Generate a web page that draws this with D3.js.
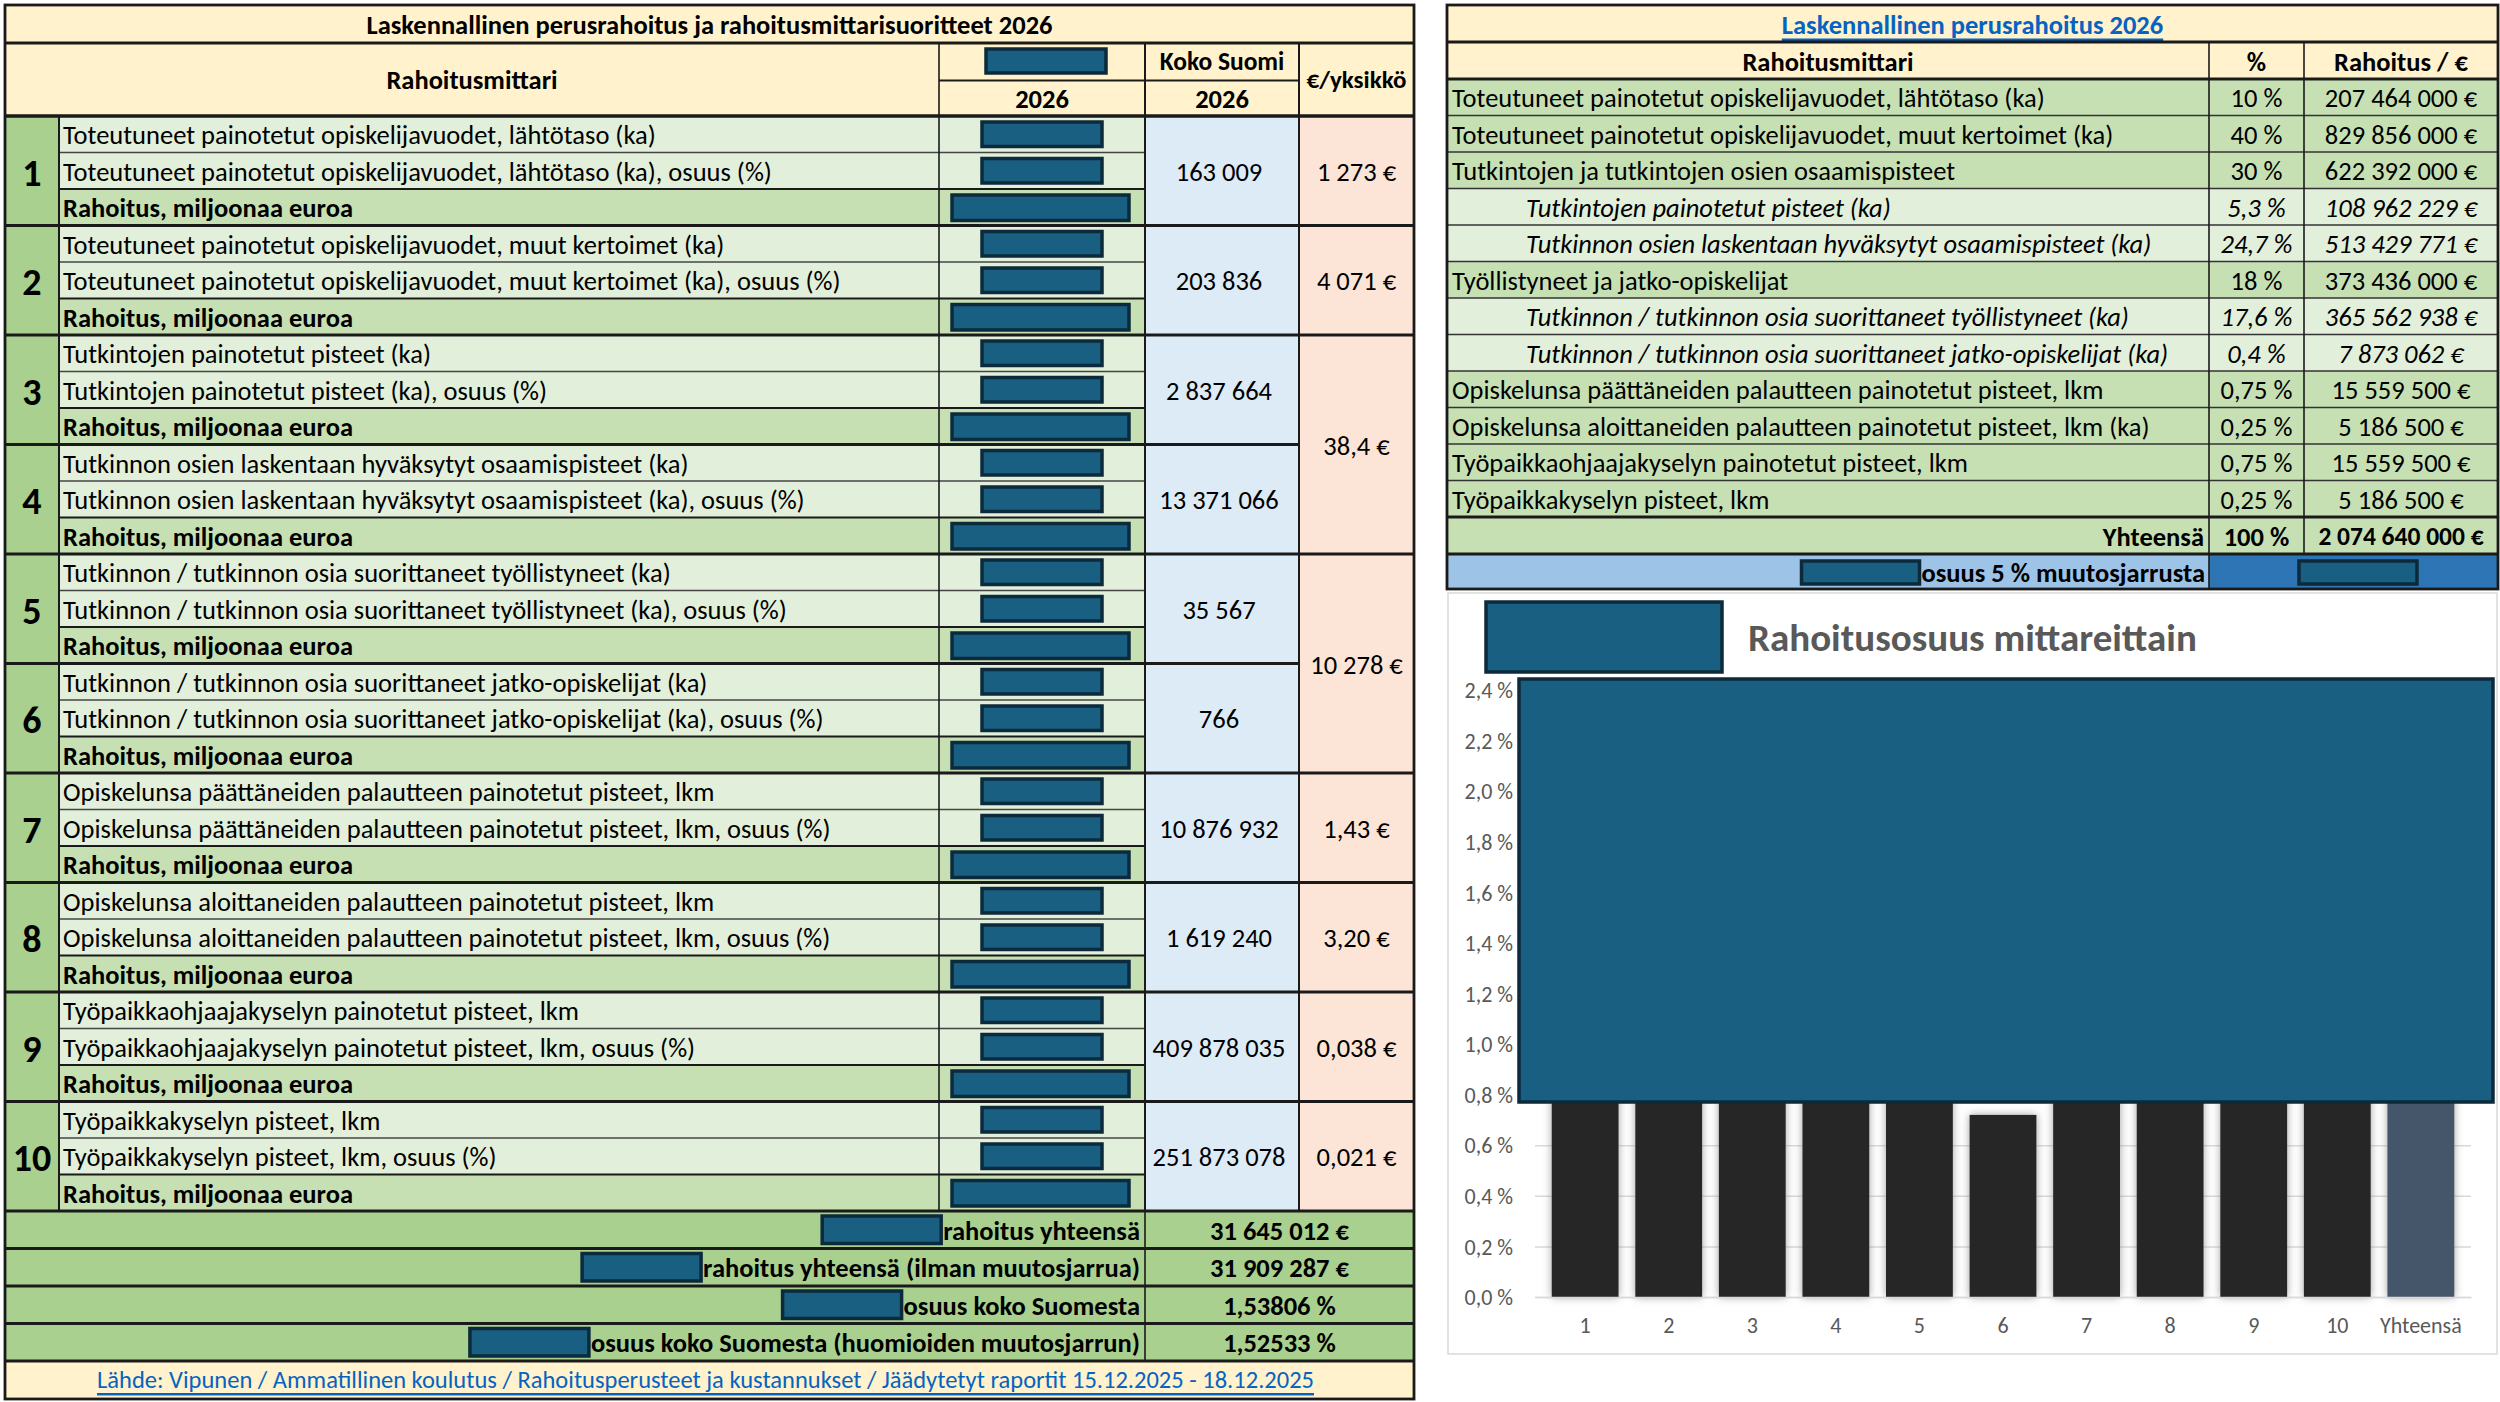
<!DOCTYPE html>
<html>
<head>
<meta charset="utf-8">
<script src="https://cdn.jsdelivr.net/npm/d3@7"></script>
<style>
  body { margin: 0; background: #ffffff; }
  svg { display: block; }
  text { font-family: Carlito, Lato, "Open Sans", sans-serif; fill: #000; }
</style>
</head>
<body>
<div id="sheet"></div>
<script>
// ---- data ----
var groupNumbers = [1, 2, 3, 4, 5, 6, 7, 8, 9, 10];

var mittariLabels = [
    ["Toteutuneet painotetut opiskelijavuodet, lähtötaso (ka)", "Toteutuneet painotetut opiskelijavuodet, lähtötaso (ka), osuus (%)"],
    ["Toteutuneet painotetut opiskelijavuodet, muut kertoimet (ka)", "Toteutuneet painotetut opiskelijavuodet, muut kertoimet (ka), osuus (%)"],
    ["Tutkintojen painotetut pisteet (ka)", "Tutkintojen painotetut pisteet (ka), osuus (%)"],
    ["Tutkinnon osien laskentaan hyväksytyt osaamispisteet (ka)", "Tutkinnon osien laskentaan hyväksytyt osaamispisteet (ka), osuus (%)"],
    ["Tutkinnon / tutkinnon osia suorittaneet työllistyneet (ka)", "Tutkinnon / tutkinnon osia suorittaneet työllistyneet (ka), osuus (%)"],
    ["Tutkinnon / tutkinnon osia suorittaneet jatko-opiskelijat (ka)", "Tutkinnon / tutkinnon osia suorittaneet jatko-opiskelijat (ka), osuus (%)"],
    ["Opiskelunsa päättäneiden palautteen painotetut pisteet, lkm", "Opiskelunsa päättäneiden palautteen painotetut pisteet, lkm, osuus (%)"],
    ["Opiskelunsa aloittaneiden palautteen painotetut pisteet, lkm", "Opiskelunsa aloittaneiden palautteen painotetut pisteet, lkm, osuus (%)"],
    ["Työpaikkaohjaajakyselyn painotetut pisteet, lkm", "Työpaikkaohjaajakyselyn painotetut pisteet, lkm, osuus (%)"],
    ["Työpaikkakyselyn pisteet, lkm", "Työpaikkakyselyn pisteet, lkm, osuus (%)"]
];
var rahoitusLabel = "Rahoitus, miljoonaa euroa";

var kokoSuomi = ["163 009", "203 836", "2 837 664", "13 371 066", "35 567", "766",
                 "10 876 932", "1 619 240", "409 878 035", "251 873 078"];

// €/yksikkö cells, some merged over two groups
var euroFrom = [0, 1, 2, 4, 6, 7, 8, 9];
var euroTo   = [0, 1, 3, 5, 6, 7, 8, 9];
var euroText = ["1 273 €", "4 071 €", "38,4 €", "10 278 €", "1,43 €", "3,20 €", "0,038 €", "0,021 €"];

var summaryLabels = ["rahoitus yhteensä", "rahoitus yhteensä (ilman muutosjarrua)",
                     "osuus koko Suomesta", "osuus koko Suomesta (huomioiden muutosjarrun)"];
var summaryValues = ["31 645 012 €", "31 909 287 €", "1,53806 %", "1,52533 %"];

var sourceText = "Lähde: Vipunen / Ammatillinen koulutus / Rahoitusperusteet ja kustannukset / Jäädytetyt raportit 15.12.2025 - 18.12.2025";

var rightLabels = [
    "Toteutuneet painotetut opiskelijavuodet, lähtötaso (ka)",
    "Toteutuneet painotetut opiskelijavuodet, muut kertoimet (ka)",
    "Tutkintojen ja tutkintojen osien osaamispisteet",
    "Tutkintojen painotetut pisteet (ka)",
    "Tutkinnon osien laskentaan hyväksytyt osaamispisteet (ka)",
    "Työllistyneet ja jatko-opiskelijat",
    "Tutkinnon / tutkinnon osia suorittaneet työllistyneet (ka)",
    "Tutkinnon / tutkinnon osia suorittaneet jatko-opiskelijat (ka)",
    "Opiskelunsa päättäneiden palautteen painotetut pisteet, lkm",
    "Opiskelunsa aloittaneiden palautteen painotetut pisteet, lkm (ka)",
    "Työpaikkaohjaajakyselyn painotetut pisteet, lkm",
    "Työpaikkakyselyn pisteet, lkm"
];
var rightPct = ["10 %", "40 %", "30 %", "5,3 %", "24,7 %", "18 %", "17,6 %", "0,4 %",
                "0,75 %", "0,25 %", "0,75 %", "0,25 %"];
var rightEur = ["207 464 000 €", "829 856 000 €", "622 392 000 €", "108 962 229 €", "513 429 771 €",
                "373 436 000 €", "365 562 938 €", "7 873 062 €", "15 559 500 €", "5 186 500 €",
                "15 559 500 €", "5 186 500 €"];
var rightSub = [false, false, false, true, true, false, true, true, false, false, false, false];
var rightTotal = ["Yhteensä", "100 %", "2 074 640 000 €"];
var brakeLabel = "osuus 5 % muutosjarrusta";

var barCategories = ["1", "2", "3", "4", "5", "6", "7", "8", "9", "10", "Yhteensä"];
// tops above 0,8 % are hidden behind the cover box in the source
var barValues = [1.55, 1.52, 1.50, 1.54, 1.58, 0.72, 1.47, 1.44, 1.57, 1.51, 1.53];
var yTickValues = [0, 0.2, 0.4, 0.6, 0.8, 1.0, 1.2, 1.4, 1.6, 1.8, 2.0, 2.2, 2.4];
var chartTitle = "Rahoitusosuus mittareittain";

// ---- setup ----
var W = 2500, H = 1402;
var svg = d3.select("#sheet").append("svg")
    .attr("width", W).attr("height", H)
    .style("background-color", "#ffffff");

var defs = svg.append("defs");
var sh = defs.append("filter").attr("id", "barShadow")
    .attr("x", "-30%").attr("y", "-10%").attr("width", "160%").attr("height", "120%");
sh.append("feDropShadow").attr("dx", 0).attr("dy", 0).attr("stdDeviation", 4)
    .attr("flood-color", "#7f7f7f").attr("flood-opacity", 0.75);

var FS = 26.5;   // body font size

function cell(g, x, y, w, h, fill) {
    g.append("rect").attr("x", x).attr("y", y).attr("width", w).attr("height", h)
        .style("fill", fill);
}
function line(g, x1, y1, x2, y2, sw, col) {
    g.append("line").attr("x1", x1).attr("y1", y1).attr("x2", x2).attr("y2", y2)
        .style("stroke", col || "#1a1a1a").style("stroke-width", sw);
}
function label(g, x, y, str, anchor, opts) {
    opts = opts || {};
    return g.append("text").attr("x", x).attr("y", y)
        .attr("text-anchor", anchor || "start")
        .attr("dominant-baseline", "central")
        .style("font-size", (opts.size || FS) + "px")
        .style("font-weight", opts.bold ? "bold" : "normal")
        .style("font-style", opts.italic ? "italic" : "normal")
        .style("fill", opts.fill || "#000")
        .style("text-decoration", opts.underline ? "underline" : "none")
        .text(str);
}
function coverBox(g, x, y, w, h) {
    g.append("rect").attr("x", x).attr("y", y).attr("width", w).attr("height", h)
        .style("fill", "#185f81").style("stroke", "#0c2a3b").style("stroke-width", 3.5);
}

// ---- left table ----
var L = svg.append("g");
var colX = [5, 59, 939, 1145, 1299, 1414];
var topY = 5, headY = 43, bodyY = 116, bodyEnd = 1211;
var rowY = d3.scaleLinear().domain([0, groupNumbers.length * 3]).range([bodyY, bodyEnd]);
var rowH = rowY(1) - rowY(0);

cell(L, colX[0], topY, colX[5] - colX[0], bodyY - topY, "#FFF2CC");
label(L, (colX[0] + colX[5]) / 2, (topY + headY) / 2 + 1, "Laskennallinen perusrahoitus ja rahoitusmittarisuoritteet 2026", "middle", {bold: true});
label(L, (colX[0] + colX[2]) / 2, (headY + bodyY) / 2, "Rahoitusmittari", "middle", {bold: true});
coverBox(L, 986, 49, 120, 24);
label(L, (colX[2] + colX[3]) / 2, (headY + bodyY) / 2 + 19, "2026", "middle", {bold: true});
label(L, (colX[3] + colX[4]) / 2, (headY + bodyY) / 2 - 18, "Koko Suomi", "middle", {bold: true, size: 25.5});
label(L, (colX[3] + colX[4]) / 2, (headY + bodyY) / 2 + 19, "2026", "middle", {bold: true});
label(L, (colX[4] + colX[5]) / 2, (headY + bodyY) / 2, "€/yksikkö", "middle", {bold: true, size: 25});

var groups = L.selectAll("g.grp").data(groupNumbers).join("g").attr("class", "grp");
groups.each(function(n, i) {
    var g = d3.select(this);
    var y0 = rowY(i * 3);
    cell(g, colX[0], y0, colX[1] - colX[0], rowH * 3, "#A9D08E");
    for (var r = 0; r < 3; r++) {
        var yr = rowY(i * 3 + r);
        var fill = r < 2 ? "#E2EFDA" : "#C6E0B4";
        cell(g, colX[1], yr, colX[3] - colX[1], rowH, fill);
        if (r < 2) {
            label(g, colX[1] + 4, yr + rowH / 2 + 1, mittariLabels[i][r], "start");
            coverBox(g, 982, yr + 6, 120, rowH - 12);
        } else {
            label(g, colX[1] + 4, yr + rowH / 2 + 1, rahoitusLabel, "start", {bold: true});
            coverBox(g, 952, yr + 6, 177, rowH - 11);
        }
    }
    cell(g, colX[3], y0, colX[4] - colX[3], rowH * 3, "#DDEBF7");
    label(g, (colX[3] + colX[4]) / 2 - 3, y0 + rowH * 1.5 + 1, kokoSuomi[i], "middle");
    label(g, (colX[0] + colX[1]) / 2, y0 + rowH * 1.5 + 2, String(n), "middle", {bold: true, size: 38});
    // lines inside group
    line(g, colX[1], rowY(i * 3 + 1), colX[3], rowY(i * 3 + 1), 1.3, "#444");
    line(g, colX[1], rowY(i * 3 + 2), colX[3], rowY(i * 3 + 2), 2.2, "#1a1a1a");
});

euroText.forEach(function(t, k) {
    var y0 = rowY(euroFrom[k] * 3), y1 = rowY((euroTo[k] + 1) * 3);
    cell(L, colX[4], y0, colX[5] - colX[4], y1 - y0, "#FCE4D6");
    label(L, (colX[4] + colX[5]) / 2, (y0 + y1) / 2 + 1, t, "middle");
});
// group separators
groupNumbers.forEach(function(n, i) {
    line(L, colX[0], rowY(i * 3), colX[4], rowY(i * 3), 2.8);
});
euroFrom.forEach(function(f) {
    line(L, colX[4], rowY(f * 3), colX[5], rowY(f * 3), 2.8);
});

// summary rows
var sumY = d3.scaleLinear().domain([0, summaryLabels.length]).range([bodyEnd, 1361]);
var sumH = sumY(1) - sumY(0);
summaryLabels.forEach(function(t, k) {
    var y = sumY(k);
    cell(L, colX[0], y, colX[5] - colX[0], sumH, "#A9D08E");
    var tx = label(L, colX[3] - 5, y + sumH / 2 + 1, t, "end", {bold: true});
    var bb = tx.node().getBBox();
    coverBox(L, bb.x - 121, y + 5, 119, sumH - 10);
    label(L, (colX[3] + colX[5]) / 2, y + sumH / 2 + 1, summaryValues[k], "middle", {bold: true});
    line(L, colX[0], y, colX[5], y, 2.8);
});
line(L, colX[3], bodyEnd, colX[3], 1361, 1.6);

// footer
cell(L, colX[0], 1361, colX[5] - colX[0], 1399 - 1361, "#FFF2CC");
label(L, (colX[0] + colX[5]) / 2 - 4, 1380, sourceText, "middle", {fill: "#0563C1", underline: true, size: 24.5});
line(L, colX[0], 1361, colX[5], 1361, 2.8);

// vertical lines & outer frame
line(L, colX[1], bodyY, colX[1], bodyEnd, 2);
line(L, colX[2], headY, colX[2], bodyEnd, 1.6);
line(L, colX[3], headY, colX[3], bodyEnd, 2);
line(L, colX[4], headY, colX[4], bodyEnd, 2);
line(L, colX[2], (headY + bodyY) / 2 + 1, colX[4], (headY + bodyY) / 2 + 1, 2);
line(L, colX[0], headY, colX[5], headY, 2.8);
line(L, colX[0], bodyY, colX[5], bodyY, 2.8);
L.append("rect").attr("x", colX[0]).attr("y", topY).attr("width", colX[5] - colX[0])
    .attr("height", 1399 - topY).style("fill", "none").style("stroke", "#1a1a1a").style("stroke-width", 2.8);

// ---- right table ----
var R = svg.append("g");
var rx = [1447, 2209, 2304, 2498];
var rTop = 5, rHead = 42, rBody = 79;
var rRow = d3.scaleLinear().domain([0, rightLabels.length]).range([rBody, 517]);
var rh = rRow(1) - rRow(0);

cell(R, rx[0], rTop, rx[3] - rx[0], rBody - rTop, "#FFF2CC");
label(R, (rx[0] + rx[3]) / 2, (rTop + rHead) / 2 + 1, "Laskennallinen perusrahoitus 2026", "middle", {fill: "#0563C1", underline: true, bold: true});
label(R, (rx[0] + rx[1]) / 2, (rHead + rBody) / 2 + 1, "Rahoitusmittari", "middle", {bold: true});
label(R, (rx[1] + rx[2]) / 2, (rHead + rBody) / 2 + 1, "%", "middle", {bold: true});
label(R, (rx[2] + rx[3]) / 2, (rHead + rBody) / 2 + 1, "Rahoitus / €", "middle", {bold: true});

var rrows = R.selectAll("g.rrow").data(rightLabels).join("g").attr("class", "rrow");
rrows.each(function(t, i) {
    var g = d3.select(this);
    var y = rRow(i);
    cell(g, rx[0], y, rx[3] - rx[0], rh, rightSub[i] ? "#E2EFDA" : "#C6E0B4");
    var it = rightSub[i];
    label(g, rx[0] + (it ? 79 : 5), y + rh / 2 + 1, t, "start", {italic: it});
    label(g, (rx[1] + rx[2]) / 2, y + rh / 2 + 1, rightPct[i], "middle", {italic: it});
    label(g, (rx[2] + rx[3]) / 2, y + rh / 2 + 1, rightEur[i], "middle", {italic: it});
    line(g, rx[0], y, rx[3], y, 1.5, "#333");
});
var yTot = rRow(rightLabels.length), yBr = 554, yEnd = 589;
cell(R, rx[0], yTot, rx[3] - rx[0], yBr - yTot, "#C6E0B4");
label(R, rx[1] - 5, (yTot + yBr) / 2 + 1, rightTotal[0], "end", {bold: true});
label(R, (rx[1] + rx[2]) / 2, (yTot + yBr) / 2 + 1, rightTotal[1], "middle", {bold: true});
label(R, (rx[2] + rx[3]) / 2, (yTot + yBr) / 2 + 1, rightTotal[2], "middle", {bold: true, size: 25.5});
cell(R, rx[0], yBr, rx[1] - rx[0], yEnd - yBr, "#9DC3E6");
cell(R, rx[1], yBr, rx[3] - rx[1], yEnd - yBr, "#2E75B6");
var bt = label(R, rx[1] - 4, (yBr + yEnd) / 2 + 1, brakeLabel, "end", {bold: true});
var bbb = bt.node().getBBox();
coverBox(R, bbb.x - 120, yBr + 7, 118, yEnd - yBr - 12);
coverBox(R, 2299, yBr + 7, 118, yEnd - yBr - 12);

line(R, rx[1], rHead, rx[1], yBr, 1.6);
line(R, rx[2], rHead, rx[2], yTot + (yBr - yTot), 1.6);
line(R, rx[1], yBr, rx[1], yEnd, 1.6);
line(R, rx[0], rHead, rx[3], rHead, 2.8);
line(R, rx[0], rBody, rx[3], rBody, 2.8);
line(R, rx[0], yTot, rx[3], yTot, 2.8);
line(R, rx[0], yBr, rx[3], yBr, 2.8);
R.append("rect").attr("x", rx[0]).attr("y", rTop).attr("width", rx[3] - rx[0])
    .attr("height", yEnd - rTop).style("fill", "none").style("stroke", "#1a1a1a").style("stroke-width", 2.8);

// ---- bar chart ----
var C = svg.append("g");
C.append("rect").attr("x", 1448).attr("y", 593).attr("width", 2497 - 1448).attr("height", 1354 - 593)
    .style("fill", "#ffffff").style("stroke", "#d9d9d9").style("stroke-width", 1.5);

var x = d3.scaleBand().domain(barCategories).range([1535, 2471]).padding(0.2);
var y = d3.scaleLinear().domain([0, 2.4]).range([1297, 690]);

var yAxis = d3.axisLeft(y).tickValues(yTickValues)
    .tickSize(-(2471 - 1535)).tickPadding(22)
    .tickFormat(function(d) { return d3.format(".1f")(d).replace(".", ",") + " %"; });
var ya = C.append("g").attr("transform", "translate(1535,0)").call(yAxis);
ya.select(".domain").remove();
ya.selectAll(".tick line").style("stroke", "#d9d9d9").style("stroke-width", 1.5);
ya.selectAll(".tick text").style("font-size", "22px").style("fill", "#595959")
    .attr("dy", "0.35em").attr("x", -22);

C.selectAll("rect.bar").data(barValues).join("rect").attr("class", "bar")
    .attr("x", function(d, i) { return x(barCategories[i]); })
    .attr("width", x.bandwidth())
    .attr("y", function(d) { return y(d); })
    .attr("height", function(d) { return y(0) - y(d); })
    .style("fill", function(d, i) { return barCategories[i] == "Yhteensä" ? "#44546A" : "#262626"; })
    .attr("filter", "url(#barShadow)");

var xAxis = d3.axisBottom(x).tickSize(0).tickPadding(20);
var xa = C.append("g").attr("transform", "translate(0," + y(0) + ")").call(xAxis);
xa.select(".domain").style("stroke", "#d9d9d9").style("stroke-width", 1.5);
xa.selectAll(".tick text").style("font-size", "22px").style("fill", "#595959");

// chart title and cover boxes
coverBox(C, 1486, 602, 236, 70);
label(C, 1748, 637, chartTitle, "start", {bold: true, size: 39, fill: "#595959"});
coverBox(C, 1519, 679, 974, 423);
</script>
</body>
</html>
